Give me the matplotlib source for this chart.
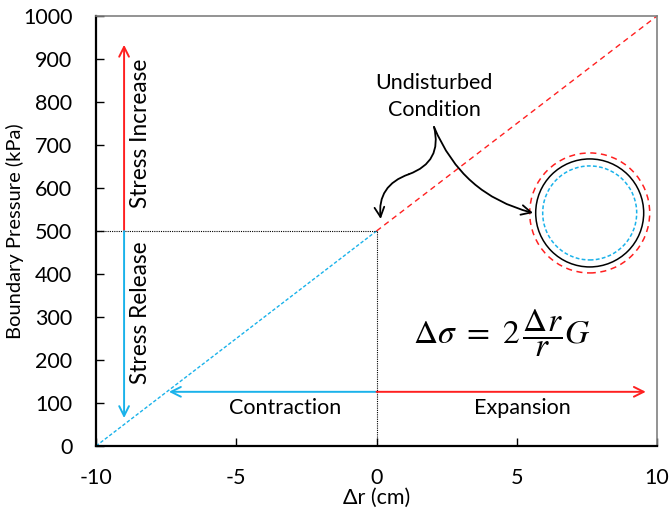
import numpy as np
import matplotlib
matplotlib.use("Agg")
import matplotlib.pyplot as plt
from matplotlib.patches import Ellipse

plt.rcParams['font.family'] = ['Lato', 'DejaVu Sans']
plt.rcParams['mathtext.fontset'] = 'stix'
plt.rcParams['axes.unicode_minus'] = False

# data
dr_contract = [-10, 0]
p_contract = [0, 500]
dr_expand = [0, 10]
p_expand = [500, 1000]
p0 = 500
xticks = [-10, -5, 0, 5, 10]
yticks = list(range(0, 1001, 100))

red = '#FF2020'
blue = '#1AB2EA'
fs = 15.5

fig = plt.figure(figsize=(6.72, 5.11), dpi=100)
ax = fig.add_axes([0.1429, 0.1272, 0.8348, 0.8415])

ax.plot(dr_contract, p_contract, color=blue, lw=1.0, ls=(0, (2.5, 1.5)))
ax.plot(dr_expand, p_expand, color=red, lw=1.0, ls=(0, (4, 3)))
ax.plot([-10, 0], [p0, p0], color='black', lw=0.8, ls=(0, (1, 1)))
ax.plot([0, 0], [0, p0], color='black', lw=0.8, ls=(0, (1, 1)))

arr = dict(arrowstyle='->,head_length=0.7,head_width=0.35', lw=1.4, shrinkA=0, shrinkB=0)
# stress increase / release
ax.annotate('', xy=(-9, 933), xytext=(-9, p0), arrowprops=dict(color=red, **arr))
ax.annotate('', xy=(-9, 65), xytext=(-9, p0), arrowprops=dict(color=blue, **arr))
# contraction / expansion
ax.annotate('', xy=(-7.4, 126), xytext=(0, 126), arrowprops=dict(color=blue, **arr))
ax.annotate('', xy=(9.6, 126), xytext=(0, 126), arrowprops=dict(color=red, **arr))

ax.text(-8.43, 728, 'Stress Increase', rotation=90, ha='center', va='center', fontsize=16.3)
ax.text(-8.43, 309, 'Stress Release', rotation=90, ha='center', va='center', fontsize=16.3)
ax.text(-3.26, 88, 'Contraction', ha='center', va='center', fontsize=fs)
ax.text(5.19, 88, 'Expansion', ha='center', va='center', fontsize=fs)
ax.text(2.05, 812, 'Undisturbed\nCondition', ha='center', va='center', fontsize=fs, linespacing=1.45)

# curly arrows from label
ax.annotate('', xy=(1.15, 632), xytext=(2.05, 742),
            arrowprops=dict(arrowstyle='-', color='black', lw=1.3, shrinkA=0, shrinkB=0,
                            connectionstyle='arc3,rad=-0.45'))
ax.annotate('', xy=(0.15, 528), xytext=(1.15, 632),
            arrowprops=dict(arrowstyle='->,head_length=0.7,head_width=0.35', color='black', lw=1.3,
                            shrinkA=0, shrinkB=0, connectionstyle='arc3,rad=0.4'))
ax.annotate('', xy=(5.58, 542), xytext=(2.05, 742),
            arrowprops=dict(arrowstyle='->,head_length=0.7,head_width=0.35', color='black', lw=1.3,
                            shrinkA=0, shrinkB=0, connectionstyle='arc3,rad=0.25'))

# circles (radii in pixels converted to data units)
cx, cy = 7.6, 542
sx, sy = 20 / 561, 1000 / 430
for r, col, ls in [(60, red, (0, (4, 3))), (54, 'black', '-'), (47, blue, (0, (2.5, 1.5)))]:
    ax.add_patch(Ellipse((cx, cy), 2 * r * sx, 2 * r * sy, fill=False, edgecolor=col, lw=1.1, ls=ls))

ax.text(4.47, 263, r'$\Delta\sigma\ =\ 2\,\dfrac{\Delta r}{r}G$', ha='center', va='center', fontsize=24)

ax.set_xlim(-10, 10)
ax.set_ylim(0, 1000)
ax.set_xticks(xticks)
ax.set_yticks(yticks)
ax.tick_params(direction='in', length=6, width=1, labelsize=fs)
ax.tick_params(axis='x', pad=16)
ax.tick_params(axis='y', pad=17)
ax.set_xlabel('Δr (cm)', fontsize=fs)
ax.xaxis.set_label_coords(0.5, -0.097)
ax.set_ylabel('Boundary Pressure (kPa)', fontsize=14.5)
ax.yaxis.set_label_coords(-0.128, 0.5)

for s in ['left', 'bottom']:
    ax.spines[s].set_linewidth(1.6)
for s in ['top', 'right']:
    ax.spines[s].set_color('#808080')
    ax.spines[s].set_linewidth(1.2)

fig.savefig('out.png', dpi=100)
